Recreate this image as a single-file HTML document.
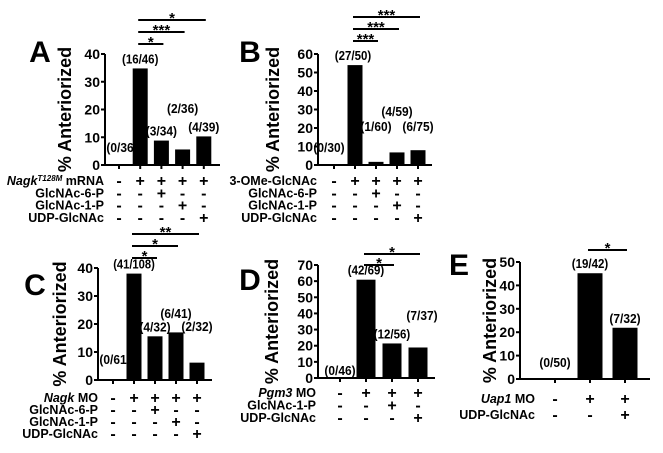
<!DOCTYPE html>
<html><head><meta charset="utf-8"><style>
body{margin:0;background:#fff}
svg{display:block;font-family:"Liberation Sans",Arial,sans-serif;font-weight:bold}
</style></head><body>
<svg id="fig" width="663" height="453" viewBox="0 0 663 453" xmlns="http://www.w3.org/2000/svg"></svg>
<script>
// Panel A data
const aValues=[0,34.8,8.8,5.6,10.3];
const aLabels=["(0/36)","(16/46)","(3/34)","(2/36)","(4/39)"];
const aTicks=[0,10,20,30,40];
const aRows=["mRNA","GlcNAc-6-P","GlcNAc-1-P","UDP-GlcNAc"];
const aSigns=[["-","+","+","+","+"],["-","-","+","-","-"],["-","-","-","+","-"],["-","-","-","-","+"]];
// Panel B data
const bValues=[0,54,1.7,6.8,8.0];
const bLabels=["(0/30)","(27/50)","(1/60)","(4/59)","(6/75)"];
const bTicks=[0,10,20,30,40,50,60];
const bRows=["3-OMe-GlcNAc","GlcNAc-6-P","GlcNAc-1-P","UDP-GlcNAc"];
// Panel C data
const cValues=[0,38,15.6,17,6.2];
const cLabels=["(0/61)","(41/108)","(4/32)","(6/41)","(2/32)"];
const cTicks=[0,10,20,30,40];
const cRows=[" MO","GlcNAc-6-P","GlcNAc-1-P","UDP-GlcNAc"];
// Panel D data
const dValues=[0,60.9,21.4,18.9];
const dLabels=["(0/46)","(42/69)","(12/56)","(7/37)"];
const dTicks=[0,10,20,30,40,50,60,70];
const dRows=[" MO","GlcNAc-1-P","UDP-GlcNAc"];
const dSigns=[["-","+","+","+"],["-","-","+","-"],["-","-","-","+"]];
// Panel E data
const eValues=[0,45.2,21.9];
const eLabels=["(0/50)","(19/42)","(7/32)"];
const eTicks=[0,10,20,30,40,50];
const eRows=[" MO","UDP-GlcNAc"];
const eSigns=[["-","+","+"],["-","-","+"]];

const NS="http://www.w3.org/2000/svg";
const svg=document.getElementById('fig');
function mk(tag,attrs,parent,text){const e=document.createElementNS(NS,tag);for(const k in attrs)e.setAttribute(k,attrs[k]);if(text!==undefined)e.textContent=text;(parent||svg).appendChild(e);return e;}

function panel(o){
  const g=mk('g',{});
  
  
  const y=v=>o.y0-(v/o.max)*(o.y0-o.yTop);
  const x=i=>o.c0+i*o.dx;
  const L=mk('text',{x:o.letterX,y:o.letterY,'font-size':30,'text-anchor':'middle'},g,o.id);
  
  
  const t=mk('text',{transform:`translate(${o.titleX},${(o.y0+o.yTop)/2}) rotate(-90)`,'font-size':18,'text-anchor':'middle','dominant-baseline':'central'},g,'% Anteriorized');
  
  
  const ax=mk('path',{d:`M${o.ax},${o.yTop} V${o.y0} H${o.axEnd}`,stroke:'#000','stroke-width':2,fill:'none'},g);
  
  
  o.ticks.forEach(v=>{
    mk('line',{x1:o.ax-4,x2:o.ax,y1:y(v),y2:y(v),stroke:'#000','stroke-width':2},g);
    const tl=mk('text',{x:o.ax-5,y:y(v)+5,'font-size':14,'text-anchor':'end'},g,String(v));
    
    
  });
  o.values.forEach((v,i)=>{
    mk('line',{x1:x(i),x2:x(i),y1:o.y0,y2:o.y0+4,stroke:'#000','stroke-width':2},g);
    if(v>0){
      const b=mk('rect',{x:x(i)-o.bw/2,y:y(v),width:o.bw,height:o.y0-y(v),fill:'#000'},g);
      
      
    }
    const ly=(o.labelY&&o.labelY[i]!=null)?o.labelY[i]:y(v)-5;
    const s=o.labels[i];
    const lb=mk('text',{x:x(i)+(o.labelDx?o.labelDx[i]:0),y:ly,'font-size':13,'text-anchor':'middle',textLength:s.length*5.2,lengthAdjust:'spacingAndGlyphs'},g,s);
    
    
  });
  o.rows.forEach((r,ri)=>{
    const ry=o.rowY0+ri*o.rowDy;
    const rt=mk('text',{x:o.rowX,y:ry,'font-size':12.5,'text-anchor':'end'},g);
    
    
    if(ri===0&&o.gene){
      mk('tspan',{'font-style':'italic'},rt,o.gene);
      if(o.sup) mk('tspan',{'font-size':8,'dy':-4,'font-style':'italic'},rt,o.sup);
      mk('tspan',{'dy':o.sup?4:0},rt,o.sup?' '+r:r);
    } else rt.textContent=r;
    o.signs[ri].forEach((s,i)=>{
      const st=mk('text',{x:x(i),y:ry+1,'font-size':16,'text-anchor':'middle'},g,s==='+'?'+':'-');
      
      
    });
  });
  o.sig.forEach(s=>{
    const ln=mk('line',{x1:x(s[0])-2,x2:x(s[1])+2,y1:s[2],y2:s[2],stroke:'#000','stroke-width':2},g);
    
    
    const st=mk('text',{x:(x(s[0])+x(s[1]))/2,y:s[2]+3,'font-size':15,'text-anchor':'middle'},g,s[3]);
    
    
  });
}
const std=[["-","+","+","+","+"],["-","-","+","-","-"],["-","-","-","+","-"],["-","-","-","-","+"]];
panel({id:'A',values:aValues,labels:aLabels,ticks:aTicks,rows:aRows,signs:aSigns,gene:'Nagk',sup:'T128M',
  max:40,y0:165,yTop:54,ax:105,axEnd:220,c0:119,dx:21.2,bw:15,letterX:40,letterY:62,titleX:65,
  labelY:[152,null,null,113,null],labelDx:[3,0,0,0,0],rowX:104,rowY0:185,rowDy:12.3,
  sig:[[1,2,44,'*'],[1,3,32,'***'],[1,4,20,'*']]});
panel({id:'B',values:bValues,labels:bLabels,ticks:bTicks,rows:bRows,signs:std,
  max:60,y0:165,yTop:54,ax:318,axEnd:432,c0:334,dx:21,bw:15,letterX:250,letterY:62,titleX:273,
  labelY:[152,null,131,116,131],labelDx:[-5,-2,0,0,0],rowX:317,rowY0:185,rowDy:12.3,
  sig:[[1,2,41,'***'],[1,3,29,'***'],[1,4,17,'***']]});
panel({id:'C',values:cValues,labels:cLabels,ticks:cTicks,rows:cRows,signs:std,gene:'Nagk',
  max:40,y0:380,yTop:268,ax:98,axEnd:212,c0:113,dx:21,bw:15,letterX:35,letterY:295,titleX:60,
  labelY:[364,null,null,318,331],labelDx:[2,0,0,0,0],rowX:98,rowY0:402,rowDy:12,
  sig:[[1,2,258,'*'],[1,3,246,'*'],[1,4,234,'**']]});
panel({id:'D',values:dValues,labels:dLabels,ticks:dTicks,rows:dRows,signs:dSigns,gene:'Pgm3',
  max:70,y0:378,yTop:265,ax:318,axEnd:435,c0:340,dx:26,bw:19,letterX:250,letterY:290,titleX:272,
  labelY:[375,null,null,320],labelDx:[0,0,0,4],rowX:316,rowY0:397,rowDy:12.5,
  sig:[[1,2,265,'*'],[1,3,254,'*']]});
panel({id:'E',values:eValues,labels:eLabels,ticks:eTicks,rows:eRows,signs:eSigns,gene:'Uap1',
  max:50,y0:379,yTop:262,ax:520,axEnd:650,c0:555,dx:35,bw:25,letterX:459,letterY:275,titleX:490,
  labelY:[367,null,null],rowX:535,rowY0:403,rowDy:16,
  sig:[[1,2,250,'*']]});
</script>
</body></html>
